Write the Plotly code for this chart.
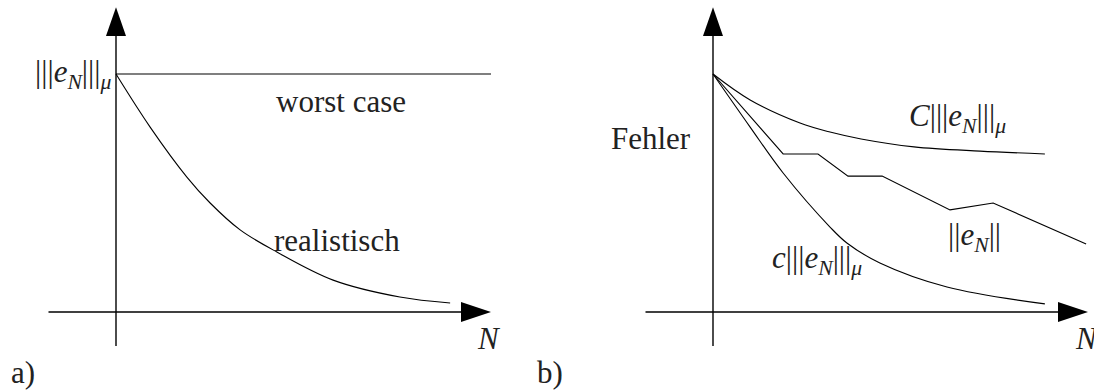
import plotly.graph_objects as go

# ---- data (N = iteration count, e = error relative to |||e_N|||_mu at N=0) ----
# panel a)
worst_N = [0.0, 10.0]
worst_e = [1.0, 1.0]
real_N = [0.0, 0.91, 1.89, 2.51, 3.31, 4.29, 5.79, 7.57, 8.91]
real_e = [1.0, 0.777, 0.567, 0.458, 0.345, 0.252, 0.134, 0.063, 0.038]

# panel b)
upper_N = [0.0, 0.99, 2.32, 3.12, 3.95, 5.36, 7.12, 8.85]
upper_e = [1.0, 0.891, 0.794, 0.756, 0.727, 0.694, 0.676, 0.664]
norm_N = [0.0, 1.87, 2.80, 3.60, 4.51, 6.32, 7.47, 9.95]
norm_e = [1.0, 0.664, 0.664, 0.571, 0.571, 0.429, 0.458, 0.286]
lower_N = [0.0, 0.99, 1.87, 3.12, 3.57, 4.45, 6.24, 8.85]
lower_e = [1.0, 0.777, 0.584, 0.357, 0.290, 0.206, 0.105, 0.034]

# ---- geometry ----
W, H = 1094, 390
PX_N, PX_E = 37.5, 238.0          # pixels per unit
ORIG_A, ORIG_B, ORIG_Y = 116, 713, 312
HALF = W / 2

FONT = "Liberation Serif"
TXT = "#222"
FS = 31

fig = go.Figure()

line = dict(color="black", width=1.1)
smooth = dict(color="black", width=1.1, shape="spline", smoothing=1.0)
fig.add_trace(go.Scatter(x=worst_N, y=worst_e, mode="lines", line=line, xaxis="x", yaxis="y"))
fig.add_trace(go.Scatter(x=real_N, y=real_e, mode="lines", line=smooth, xaxis="x", yaxis="y"))
fig.add_trace(go.Scatter(x=upper_N, y=upper_e, mode="lines", line=smooth, xaxis="x2", yaxis="y2"))
fig.add_trace(go.Scatter(x=norm_N, y=norm_e, mode="lines", line=line, xaxis="x2", yaxis="y2"))
fig.add_trace(go.Scatter(x=lower_N, y=lower_e, mode="lines", line=smooth, xaxis="x2", yaxis="y2"))

# coordinate arrows
X_START, X_TIP, X_BASE, X_HALF = -1.8, 10.0, 9.2, 0.042
Y_START, Y_TIP, Y_BASE, Y_HALF = -0.143, 1.28, 1.16, 0.267
for xr, yr in (("x", "y"), ("x2", "y2")):
    ax = dict(color="black", width=1.4)
    fig.add_shape(type="line", xref=xr, yref=yr, x0=X_START, x1=X_BASE, y0=0, y1=0, line=ax)
    fig.add_shape(type="line", xref=xr, yref=yr, x0=0, x1=0, y0=Y_START, y1=Y_BASE, line=ax)
    fig.add_shape(type="path", xref=xr, yref=yr, fillcolor="black", line=dict(width=0),
                  path=f"M {X_BASE},{X_HALF} L {X_TIP},0 L {X_BASE},{-X_HALF} Z")
    fig.add_shape(type="path", xref=xr, yref=yr, fillcolor="black", line=dict(width=0),
                  path=f"M {-Y_HALF},{Y_BASE} L 0,{Y_TIP} L {Y_HALF},{Y_BASE} Z")

norm3 = "|||<i>e</i><sub><i>N</i></sub>|||<sub><i>μ</i></sub>"
labels = [
    ("x", "y", -0.08, 1.0, norm3, "right"),
    ("x", "y", 6.0, 0.885, "worst case", "center"),
    ("x", "y", 5.9, 0.30, "realistisch", "center"),
    ("x", "y", 9.95, -0.113, "<i>N</i>", "center"),
    ("x", "y", -2.48, -0.255, "a)", "center"),
    ("x2", "y2", -1.65, 0.73, "Fehler", "center"),
    ("x2", "y2", 6.53, 0.815, "<i>C</i>" + norm3, "center"),
    ("x2", "y2", 6.96, 0.315, "||<i>e</i><sub><i>N</i></sub>||", "center"),
    ("x2", "y2", 2.77, 0.218, "<i>c</i>" + norm3, "center"),
    ("x2", "y2", 9.6, -0.113, "<i>N</i>", "left"),
    ("x2", "y2", -4.35, -0.255, "b)", "center"),
]
for xr, yr, x, y, t, xa in labels:
    fig.add_annotation(xref=xr, yref=yr, x=x, y=y, text=t, xanchor=xa, yanchor="middle",
                       showarrow=False, font=dict(family=FONT, size=FS, color=TXT))

y_range = [(ORIG_Y - H) / PX_E, ORIG_Y / PX_E]
fig.update_layout(
    width=W, height=H,
    margin=dict(l=0, r=0, t=0, b=0),
    paper_bgcolor="white", plot_bgcolor="white",
    showlegend=False,
    xaxis=dict(visible=False, domain=[0, 0.5], range=[-ORIG_A / PX_N, (HALF - ORIG_A) / PX_N]),
    xaxis2=dict(visible=False, domain=[0.5, 1], range=[(HALF - ORIG_B) / PX_N, (W - ORIG_B) / PX_N]),
    yaxis=dict(visible=False, domain=[0, 1], range=y_range, anchor="x"),
    yaxis2=dict(visible=False, domain=[0, 1], range=y_range, anchor="x2"),
)

fig.write_html("out.html")
